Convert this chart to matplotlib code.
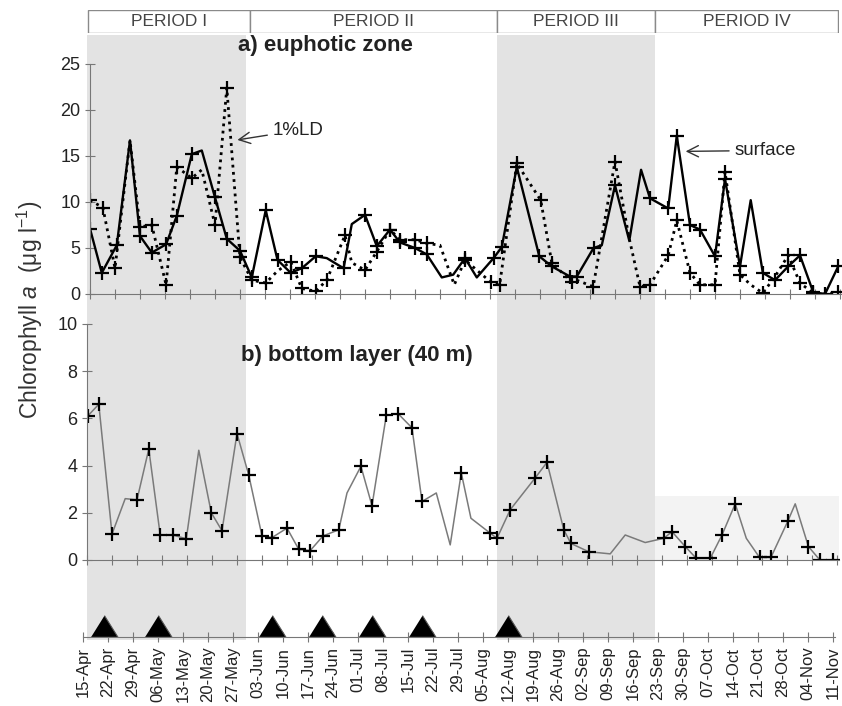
import matplotlib.pyplot as plt
from matplotlib.patches import Rectangle

plt.rcParams['font.family'] = ['Liberation Sans', 'DejaVu Sans']
plt.rcParams['mathtext.fontset'] = 'custom'
plt.rcParams['mathtext.rm'] = 'Liberation Sans'
plt.rcParams['mathtext.it'] = 'Liberation Sans:italic'

# x axis: days after 15 April, weekly ticks
tick_labels = ['15-Apr', '22-Apr', '29-Apr', '06-May', '13-May', '20-May', '27-May',
               '03-Jun', '10-Jun', '17-Jun', '24-Jun', '01-Jul', '08-Jul', '15-Jul',
               '22-Jul', '29-Jul', '05-Aug', '12-Aug', '19-Aug', '26-Aug', '02-Sep',
               '09-Sep', '16-Sep', '23-Sep', '30-Sep', '07-Oct', '14-Oct', '21-Oct',
               '28-Oct', '04-Nov', '11-Nov']
period_names = ['PERIOD I', 'PERIOD II', 'PERIOD III', 'PERIOD IV']
period_edges = [0.3, 45.6, 114.8, 159.1, 210.4]
shaded = [(0, 44.5), (114.8, 159.1)]

# a) euphotic zone - surface (solid)
surf_day = [0, 3.3, 7.5, 11.2, 14, 17.3, 21.3, 24.3, 28.5, 31.3, 35, 38.3, 42, 45.3,
            49.2, 52.5, 56.2, 59.3, 63.2, 66.3, 71, 73.3, 77, 80.3, 84, 86.8, 91, 94.3,
            98.5, 101.7, 105, 108.3, 113, 115.3, 119.5, 125.8, 129.3, 134.4, 136.3, 141,
            143.3, 147, 151, 154.3, 156.8, 161.9, 164.3, 168, 170.8, 175, 177.8, 182,
            185, 188.4, 191.8, 195.5, 198.8, 202.5, 205.8, 209.5]
surf_chl = [7.1, 2.3, 5.3, 16.7, 6.3, 4.5, 5.4, 8.5, 15.2, 15.6, 10.5, 6.0, 4.7, 1.8,
            9.1, 3.7, 2.3, 2.8, 4.1, 3.9, 2.8, 7.6, 8.6, 5.2, 7.0, 5.6, 5.0, 4.3,
            1.8, 2.1, 3.9, 1.8, 3.9, 5.1, 13.8, 4.1, 3.0, 1.9, 1.9, 5.0,
            5.3, 11.8, 5.8, 13.5, 10.4, 9.3, 17.2, 7.5, 7.0, 4.1, 12.5, 3.0,
            10.2, 2.3, 1.5, 3.0, 4.2, 0.2, 0.0, 3.0]
surf_nomark = [3, 9, 19, 21, 28, 29, 31, 40, 42, 43, 52]

# a) euphotic zone - 1% light depth (dotted)
ld_day = [0, 3.6, 7, 11.2, 14, 17.3, 21.3, 24.3, 28.5, 31.3, 35, 38.3, 42, 45.3, 49.2,
          52.5, 56.2, 59.3, 63.2, 66.3, 71.4, 73.3, 77, 80.3, 84, 86.8, 91, 94.3, 98,
          102, 105, 112.2, 114.7, 119.5, 126.2, 129.3, 134.9, 136.3, 140.9, 147, 151,
          154, 156.8, 161.9, 164.3, 168, 170.8, 175, 177.8, 182, 185, 188.4, 191.8,
          195.5, 198.8, 202.5, 205.8, 209.5]
ld_chl = [10.2, 9.4, 2.8, 16.7, 7.3, 7.5, 1.0, 13.8, 12.6, 13.5, 7.5, 22.4, 4.0, 1.5, 1.2,
          2.5, 3.5, 0.6, 0.3, 1.5, 6.4, 3.4, 2.6, 4.6, 7.0, 5.9, 5.9, 5.5, 5.3,
          1.0, 3.7, 1.3, 1.0, 14.2, 10.2, 3.4, 1.3, 1.5, 0.8, 14.4, 6.0,
          0.8, 1.0, 4.2, 8.0, 2.3, 1.0, 1.0, 13.3, 2.1, 1.0, 0.1, 1.9,
          4.2, 1.2, 0.1, 0.0, 0.2]
ld_nomark = [3, 9, 15, 21, 28, 29, 37, 40, 50, 52, 56]

# b) bottom layer (40 m)
bot_day = [0.2, 3.3, 7, 10.7, 14, 17.3, 20.5, 24, 27.8, 31.3, 34.8, 37.8, 42, 45.3, 49,
           51.8, 56, 59.3, 62.5, 66.1, 70.5, 72.8, 76.7, 79.8, 83.8, 87.1, 91, 93.8, 97.8,
           101.7, 104.8, 107.5, 112.7, 114.8, 118.5, 125.5, 128.8, 133.5, 135.5, 140.5,
           146.5, 150.7, 156.3, 161.5, 163.8, 167.5, 170.6, 174.5, 177.8, 181.5, 184.6,
           188.3, 191.5, 196.3, 198.3, 202, 205.2, 209]
bot_chl = [6.1, 6.6, 1.1, 2.6, 2.55, 4.7, 1.06, 1.06, 0.9, 4.65, 2.0, 1.24, 5.36, 3.59, 1.02,
           0.95, 1.35, 0.45, 0.4, 1.02, 1.28, 2.84, 3.97, 2.3, 6.13, 6.2, 5.6, 2.48, 2.84,
           0.64, 3.69, 1.77, 1.16, 0.92, 2.13, 3.48, 4.14, 1.28, 0.7, 0.35,
           0.26, 1.06, 0.74, 0.92, 1.2, 0.57, 0.07, 0.07, 1.06, 2.38, 0.92,
           0.11, 0.11, 1.67, 2.38, 0.57, 0.0, 0.0]
bot_nomark = [3, 9, 21, 28, 29, 31, 40, 41, 42, 50, 54]

# sampling cruises (triangles)
tri_day = [6, 21, 53, 67, 81, 95, 119]

W, H = 842, 706
XL, XR = 87, 839
PX_PER_DAY = 25 / 7
XMAX = (XR - XL) / PX_PER_DAY


def box(x0, y0, x1, y1):
    return [x0 / W, 1 - y1 / H, (x1 - x0) / W, (y1 - y0) / H]


def keep(n, skip):
    return [i for i in range(n) if i not in skip]


fig = plt.figure(figsize=(8.42, 7.06), dpi=100)

ax_bg = fig.add_axes(box(XL, 35, XR, 640))
ax_bg.set_xlim(0, XMAX)
ax_bg.set_ylim(0, 1)
ax_bg.axis('off')
for a, b in shaded:
    ax_bg.axvspan(a, b, color='#e3e3e3', lw=0)

# period header
ax_h = fig.add_axes(box(XL, 10, XR, 33))
ax_h.set_xlim(0, XMAX)
ax_h.set_ylim(0, 1)
ax_h.axis('off')
for name, a, b in zip(period_names, period_edges[:-1], period_edges[1:]):
    ax_h.add_patch(Rectangle((a, 0), b - a, 1, fc='white', ec='#8a8a8a', lw=1))
    ax_h.text((a + b) / 2, 0.5, name, ha='center', va='center', fontsize=12.5, color='#444')

# the three panels are slightly offset from each other, as in the scanned original
ax_a = fig.add_axes(box(XL + 3, 64, XR + 3, 294))
ax_b = fig.add_axes(box(XL, 324, XR, 560))
ax_t = fig.add_axes(box(XL - 4, 566, XR - 4, 637))

for ax in (ax_a, ax_b, ax_t):
    ax.set_facecolor('none')
    ax.set_xlim(0, XMAX)
    ax.set_xticks(range(0, 7 * len(tick_labels), 7))
    for s in ('top', 'right'):
        ax.spines[s].set_visible(False)
    for s in ('left', 'bottom'):
        ax.spines[s].set_color('#777')
    ax.tick_params(direction='inout', length=7, color='#777', labelcolor='#222',
                   labelsize=13)

mk = dict(marker='+', ms=10, mew=1.6, mec='black')
ax_a.plot(ld_day, ld_chl, color='black', lw=2, ls=(0, (1, 1.6)),
          markevery=keep(len(ld_day), ld_nomark), **mk)
ax_a.plot(surf_day, surf_chl, color='black', lw=1.7,
          markevery=keep(len(surf_day), surf_nomark), **mk)
ax_a.set_ylim(0, 25)
ax_a.set_yticks(range(0, 26, 5))
ax_a.tick_params(labelbottom=False)
ax_a.annotate('1%LD', xy=(40.5, 16.7), xytext=(51.2, 17.8), va='center', fontsize=13.5,
              color='#222', arrowprops=dict(arrowstyle='->,head_length=0.6,head_width=0.3',
                                            color='#333', lw=1))
ax_a.annotate('surface', xy=(166, 15.5), xytext=(180.5, 15.6), va='center', fontsize=13.5,
              color='#222', arrowprops=dict(arrowstyle='->,head_length=0.6,head_width=0.3',
                                            color='#333', lw=1))

ax_b.fill_between([159.1, XMAX], 0, 2.7, color='#f3f3f3', lw=0)
ax_b.plot(bot_day, bot_chl, color='#7a7a7a', lw=1.1,
          markevery=keep(len(bot_day), bot_nomark), **mk)
ax_b.set_ylim(0, 10)
ax_b.set_yticks(range(0, 11, 2))
ax_b.tick_params(labelbottom=False)

ax_t.plot(tri_day, [0.152] * len(tri_day), ls='none',
          marker=[(-1, -0.8), (1, -0.8), (0, 0.8)], ms=19.5, mfc='black', mec='#555', mew=0.8)
ax_t.set_ylim(0, 1)
ax_t.spines['left'].set_visible(False)
ax_t.set_yticks([])
ax_t.set_xticklabels(tick_labels, rotation=90, fontsize=12)

fig.text(325 / W, 1 - 46 / H, 'a) euphotic zone', ha='center', va='center',
         fontsize=16, fontweight='bold', color='#222')
fig.text(357 / W, 1 - 355 / H, 'b) bottom layer (40 m)', ha='center', va='center',
         fontsize=16, fontweight='bold', color='#222')
fig.text(30 / W, 1 - 310 / H, r'Chlorophyll $\it{a}$  ($\mathrm{\mu}$g l$^{-1}$)',
         rotation=90, ha='center', va='center', fontsize=16.5, color='#333')

fig.savefig('out.png', dpi=100)
